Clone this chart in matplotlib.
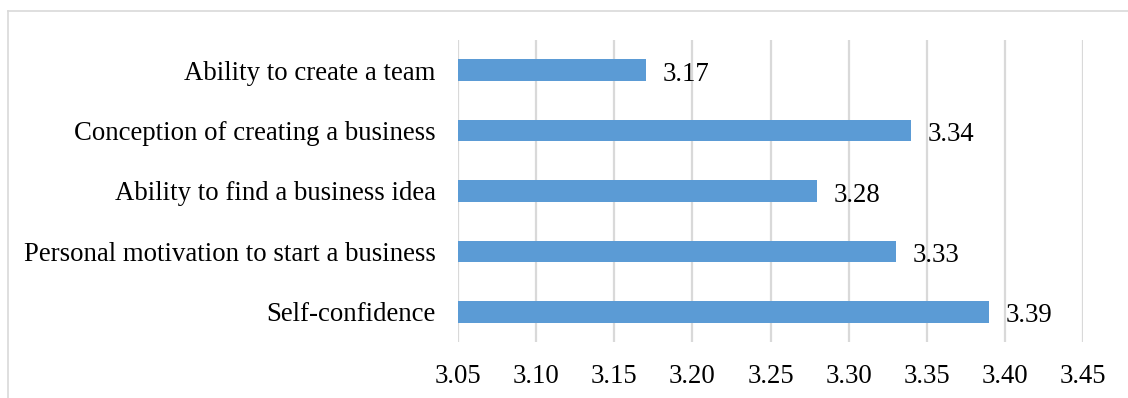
import matplotlib
matplotlib.use("Agg")
import matplotlib.pyplot as plt
from matplotlib.lines import Line2D

categories = [
    "Self-confidence",
    "Personal motivation to start a business",
    "Ability to find a business idea",
    "Conception of creating a business",
    "Ability to create a team",
]
values = [3.39, 3.33, 3.28, 3.34, 3.17]
x_ticks = [3.05, 3.10, 3.15, 3.20, 3.25, 3.30, 3.35, 3.40, 3.45]
x_base = 3.05

plt.rcParams["font.family"] = ["Liberation Serif", "DejaVu Serif"]

W, H = 1128, 398
fig = plt.figure(figsize=(W / 100, H / 100), dpi=100)
ax = fig.add_axes([458 / W, 1 - 342 / H, (1083 - 458) / W, (342 - 40) / H])

bar_color = "#5B9BD5"
grid_color = "#D9D9D9"
fs = 19.3

y = list(range(len(categories)))
ax.barh(y, [v - x_base for v in values], left=x_base, height=0.36,
        color=bar_color, zorder=3)

for yi, v in zip(y, values):
    ax.annotate(f"{v:.2f}", xy=(v, yi), xytext=(12, -3), textcoords="offset points",
                ha="left", va="center", fontsize=fs, color="#000000", zorder=4)

ax.set_xlim(x_ticks[0], x_ticks[-1])
ax.set_ylim(-0.5, len(categories) - 0.5)
ax.set_xticks(x_ticks)
ax.set_xticklabels([f"{t:.2f}" for t in x_ticks], fontsize=fs)
ax.set_yticks(y)
ax.set_yticklabels(categories, fontsize=fs)
ax.tick_params(axis="both", length=0)
ax.tick_params(axis="x", pad=16)
ax.tick_params(axis="y", pad=16)
ax.xaxis.grid(True, color=grid_color, linewidth=1.6, zorder=0)
ax.set_axisbelow(True)
for s in ax.spines.values():
    s.set_visible(False)

# chart-area frame along the top and left edges
fig.add_artist(Line2D([7.5 / W, 1.0], [1 - 11 / H, 1 - 11 / H],
                      transform=fig.transFigure, color=grid_color, linewidth=1.2))
fig.add_artist(Line2D([7.5 / W, 7.5 / W], [0.0, 1 - 11 / H],
                      transform=fig.transFigure, color=grid_color, linewidth=1.2))

fig.savefig("out.png", dpi=100)
